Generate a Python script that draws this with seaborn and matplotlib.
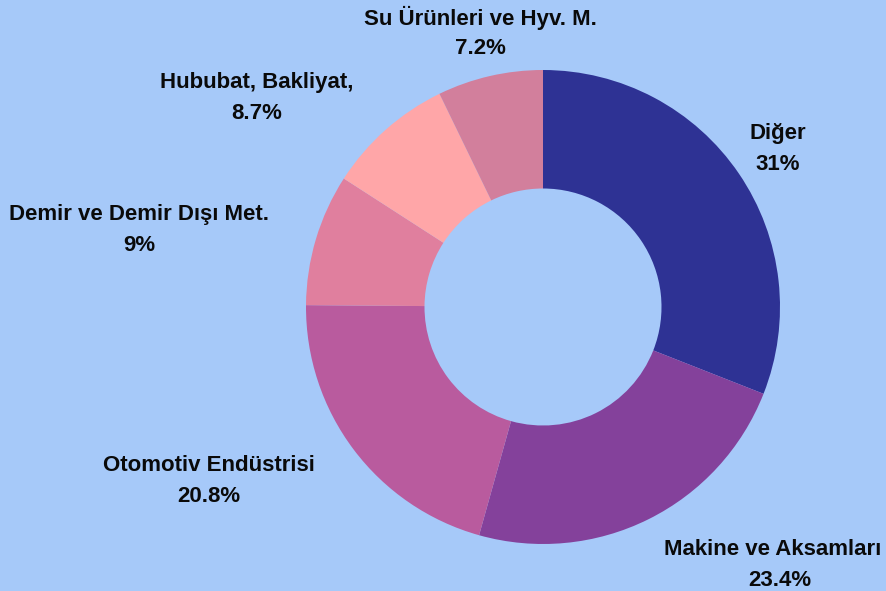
import matplotlib
matplotlib.use("Agg")
import matplotlib.pyplot as plt
import seaborn as sns

categories = ["Diğer", "Makine ve Aksamları", "Otomotiv Endüstrisi",
              "Demir ve Demir Dışı Met.", "Hububat, Bakliyat,", "Su Ürünleri ve Hyv. M."]
values = [31, 23.4, 20.8, 9, 8.7, 7.2]
pct_labels = ["31%", "23.4%", "20.8%", "9%", "8.7%", "7.2%"]
colors = ["#2e3294", "#84419b", "#b95b9e", "#e07f9e", "#ffa6a8", "#d27f9c"]
# label centres (pixels from top-left of the figure): name x, pct x, block y
label_px = [(778, 778, 149), (773, 780, 565), (209, 209, 481),
            (139, 139, 230), (257, 257, 98), (480, 480, 33)]

BG = "#a6c9f9"
sns.set_style("white")
plt.rcParams["font.family"] = ["Liberation Sans", "DejaVu Sans"]

W, H = 886, 591
CX, CY, R = 543, 307, 237

fig = plt.figure(figsize=(W / 100, H / 100), dpi=100, facecolor=BG)
ax = fig.add_axes([0, 0, 1, 1])
ax.set_facecolor(BG)
ax.axis("off")

ax.pie(values, colors=colors, startangle=90, counterclock=False, radius=1,
       wedgeprops=dict(width=0.5, edgecolor="none", linewidth=0))
ax.set_aspect("auto")
ax.set_xlim(-CX / R, (W - CX) / R)
ax.set_ylim((CY - H) / R, CY / R)

for name, pct, (nx, px, py) in zip(categories, pct_labels, label_px):
    y = (CY - py) / R
    ax.text((nx - CX) / R, y + 15.5 / R, name, ha="center", va="center", fontsize=16,
            fontweight="bold", color="#0a0a0a")
    ax.text((px - CX) / R, y - 15.5 / R, pct, ha="center", va="center", fontsize=16,
            fontweight="bold", color="#0a0a0a")

fig.savefig("out.png", dpi=100, facecolor=BG)
